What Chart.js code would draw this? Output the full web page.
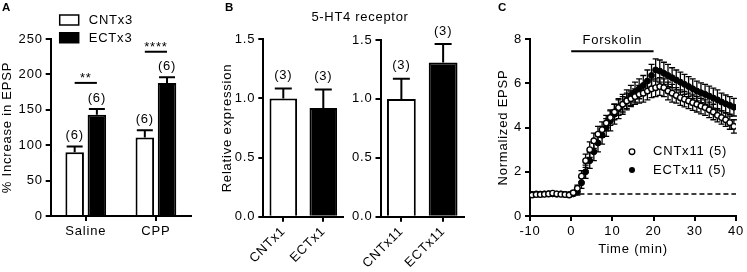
<!DOCTYPE html>
<html>
<head>
<meta charset="utf-8">
<script src="https://cdn.jsdelivr.net/npm/chart.js@4/dist/chart.umd.min.js"></script>
<style>
body { margin: 0; background: #fff; }
#wrap { position: relative; width: 747px; height: 272px; font-family: "Liberation Sans", Arial, sans-serif; color: #000; }
canvas { position: absolute; top: 0; }
.lbl { position: absolute; white-space: nowrap; line-height: 14px; }
.letter { font-weight: bold; font-size: 11.5px; }
</style>
</head>
<body>
<div id="wrap">
  <canvas id="chartA" width="200" height="272" style="left:0"></canvas>
  <canvas id="chartB1" width="150" height="272" style="left:200px"></canvas>
  <canvas id="chartB2" width="120" height="272" style="left:350px"></canvas>
  <canvas id="chartC" width="277" height="272" style="left:470px"></canvas>
  <div class="lbl letter" style="left:2px;top:0px">A</div>
  <div class="lbl letter" style="left:225px;top:0px">B</div>
  <div class="lbl letter" style="left:498px;top:0px">C</div>
  <div class="lbl" style="left:290px;top:10px;width:140px;text-align:center;font-size:13px;letter-spacing:0.7px">5-HT4 receptor</div>
</div>
<script>
// panel A
const groupsA = ['Saline', 'CPP'];
const cntA = [90, 111];
const cntAErr = [8, 10];
const ectA = [143, 188];
const ectAErr = [8, 8];
const nCntA = ['(6)', '(6)'];
const nEctA = ['(6)', '(6)'];
const sigA = ['**', '****'];
const sigAY = [188, 232];

// panel B
const catsB1 = ['CNTx1', 'ECTx1'];
const valsB1 = [1.0, 0.92];
const errB1 = [0.085, 0.155];
const catsB2 = ['CNTx11', 'ECTx11'];
const valsB2 = [1.0, 1.31];
const errB2 = [0.17, 0.155];
const nB = ['(3)', '(3)'];

// panel C
const timeC = [-9.5, -8.5, -7.5, -6.5, -5.5, -4.5, -3.5, -2.5, -1.5, -0.5,
  0.5, 1.5, 2.5, 3.5, 4.5, 5.5, 6.5, 7.5, 8.5, 9.5,
  10.5, 11.5, 12.5, 13.5, 14.5, 15.5, 16.5, 17.5, 18.5, 19.5,
  20.5, 21.5, 22.5, 23.5, 24.5, 25.5, 26.5, 27.5, 28.5, 29.5,
  30.5, 31.5, 32.5, 33.5, 34.5, 35.5, 36.5, 37.5, 38.5, 39.5];
const cntC = [0.95, 0.97, 0.97, 0.98, 1.0, 1.03, 1.0, 0.98, 0.97, 0.95,
  1.05, 1.25, 1.8, 2.5, 3.0, 3.4, 3.7, 3.9, 4.2, 4.45,
  4.7, 4.9, 5.05, 5.2, 5.3, 5.4, 5.5, 5.55, 5.65, 5.75,
  5.8, 5.85, 5.8, 5.65, 5.55, 5.45, 5.35, 5.28, 5.2, 5.12,
  5.05, 4.97, 4.9, 4.8, 4.7, 4.55, 4.45, 4.35, 4.22, 4.05];
const cntCErr = [0.05, 0.05, 0.05, 0.05, 0.05, 0.05, 0.05, 0.05, 0.05, 0.05,
  0.08, 0.15, 0.25, 0.3, 0.35, 0.35, 0.35, 0.35, 0.35, 0.35,
  0.35, 0.35, 0.35, 0.35, 0.35, 0.35, 0.4, 0.4, 0.4, 0.4,
  0.4, 0.4, 0.4, 0.4, 0.4, 0.35, 0.35, 0.35, 0.35, 0.35,
  0.35, 0.35, 0.35, 0.35, 0.35, 0.3, 0.3, 0.3, 0.3, 0.3];
const ectC = [0.98, 1.0, 0.99, 1.0, 1.01, 1.0, 0.99, 1.0, 0.98, 0.97,
  1.0, 1.1, 1.5, 2.0, 2.5, 2.9, 3.3, 3.65, 4.0, 4.3,
  4.6, 4.85, 5.05, 5.25, 5.45, 5.6, 5.75, 5.9, 6.1, 6.35,
  6.6, 6.55, 6.45, 6.35, 6.25, 6.15, 6.05, 5.95, 5.85, 5.75,
  5.65, 5.57, 5.5, 5.42, 5.33, 5.25, 5.15, 5.07, 5.0, 4.92];
const ectCErr = [0.05, 0.05, 0.05, 0.05, 0.05, 0.05, 0.05, 0.05, 0.05, 0.05,
  0.08, 0.15, 0.25, 0.3, 0.35, 0.4, 0.4, 0.4, 0.4, 0.45,
  0.45, 0.45, 0.45, 0.45, 0.45, 0.45, 0.45, 0.45, 0.5, 0.5,
  0.5, 0.5, 0.5, 0.5, 0.45, 0.45, 0.45, 0.45, 0.45, 0.45,
  0.45, 0.45, 0.45, 0.45, 0.45, 0.45, 0.4, 0.4, 0.4, 0.4];
const forskolin = [0, 20];
const forskolinY = 7.45;
const baselineC = [2, 40];

const FAM = '"Liberation Sans", Arial, sans-serif';
const FONT = { family: FAM, size: 13 };
const SPACING = '0.8px';
Chart.defaults.font.family = FAM;
Chart.defaults.font.size = 13;
Chart.defaults.color = '#000';

// the original lettering is set a little wide
const spacing = {
  id: 'spacing',
  beforeUpdate(chart) { chart.ctx.letterSpacing = SPACING; },
  beforeDraw(chart) { chart.ctx.letterSpacing = SPACING; }
};
Chart.register(spacing);

function xy(xs, ys) {
  return xs.map((x, i) => ({ x: x, y: ys[i] }));
}

function axis(extra) {
  const base = {
    grid: { display: true, drawOnChartArea: false, drawTicks: true, tickLength: 5, color: '#000', lineWidth: 2, offset: false },
    border: { display: true, color: '#000', width: 2 },
    ticks: { color: '#000', padding: 3, font: FONT }
  };
  for (const k in extra) {
    if (base[k] && typeof extra[k] === 'object') base[k] = Object.assign({}, base[k], extra[k]);
    else base[k] = extra[k];
  }
  return base;
}

// error bars + n labels, drawn through the y scale
function drawErr(chart, opts) {
  const ctx = chart.ctx;
  const ys = chart.scales.y;
  chart.data.datasets.forEach((ds, di) => {
    if (!ds.errors) return;
    const meta = chart.getDatasetMeta(di);
    ctx.save();
    ctx.strokeStyle = '#000';
    ctx.lineWidth = opts.lineWidth || 2;
    meta.data.forEach((el, i) => {
      const raw = ds.data[i];
      const v = typeof raw === 'object' ? raw.y : raw;
      const e = ds.errors[i];
      const x = el.x;
      const top = ys.getPixelForValue(v + e);
      const bot = opts.both ? ys.getPixelForValue(v - e) : el.y;
      const c = opts.cap / 2;
      ctx.beginPath();
      ctx.moveTo(x, bot); ctx.lineTo(x, top);
      ctx.moveTo(x - c, top); ctx.lineTo(x + c, top);
      if (opts.both) { ctx.moveTo(x - c, bot); ctx.lineTo(x + c, bot); }
      ctx.stroke();
      if (ds.counts) {
        ctx.fillStyle = '#000';
        ctx.font = '13px ' + FAM;
        ctx.textAlign = 'center';
        ctx.textBaseline = 'middle';
        ctx.fillText(ds.counts[i], x, top - opts.labelGap);
      }
    });
    ctx.restore();
  });
}

const errorBars = {
  id: 'errorBars',
  beforeDatasetsDraw(chart, args, opts) { if (opts.under) drawErr(chart, opts); },
  afterDatasetsDraw(chart, args, opts) { if (!opts.under) drawErr(chart, opts); }
};

const extrasA = {
  id: 'extrasA',
  afterDraw(chart) {
    const ctx = chart.ctx;
    const ys = chart.scales.y;
    const m0 = chart.getDatasetMeta(0), m1 = chart.getDatasetMeta(1);
    ctx.save();
    ctx.strokeStyle = '#000';
    ctx.fillStyle = '#000';
    ctx.lineWidth = 2;
    ctx.font = '13px ' + FAM;
    ctx.textAlign = 'center';
    ctx.textBaseline = 'bottom';
    sigA.forEach((s, i) => {
      const y = ys.getPixelForValue(sigAY[i]);
      ctx.beginPath();
      ctx.moveTo(m0.data[i].x, y); ctx.lineTo(m1.data[i].x, y);
      ctx.stroke();
      ctx.fillText(s, (m0.data[i].x + m1.data[i].x) / 2, y + 2);
    });
    // legend
    const lx = chart.chartArea.left + 9;
    ctx.lineWidth = 1.5;
    ctx.fillStyle = '#fff';
    ctx.fillRect(lx, 15, 19, 10);
    ctx.strokeRect(lx, 15, 19, 10);
    ctx.fillStyle = '#000';
    ctx.fillRect(lx - 0.75, 32, 20.5, 11.5);
    ctx.textAlign = 'left';
    ctx.textBaseline = 'middle';
    ctx.fillText(chart.data.datasets[0].label, lx + 29, 20);
    ctx.fillText(chart.data.datasets[1].label, lx + 29, 38);
    ctx.restore();
  }
};

const extrasC = {
  id: 'extrasC',
  afterDraw(chart) {
    const ctx = chart.ctx;
    const xs = chart.scales.x, ys = chart.scales.y;
    const a = chart.chartArea;
    ctx.save();
    ctx.strokeStyle = '#000';
    ctx.fillStyle = '#000';
    ctx.lineWidth = 2;
    const fy = ys.getPixelForValue(forskolinY);
    ctx.beginPath();
    ctx.moveTo(xs.getPixelForValue(forskolin[0]), fy);
    ctx.lineTo(xs.getPixelForValue(forskolin[1]), fy);
    ctx.stroke();
    ctx.font = '13px ' + FAM;
    ctx.textAlign = 'center';
    ctx.textBaseline = 'middle';
    ctx.fillText('Forskolin', xs.getPixelForValue((forskolin[0] + forskolin[1]) / 2), ys.getPixelForValue(8) + 1);
    // legend
    const cx = a.left + 102;
    ctx.textAlign = 'left';
    ctx.lineWidth = 1.3;
    ctx.beginPath(); ctx.arc(cx, a.top + 112.7, 2.8, 0, Math.PI * 2);
    ctx.fillStyle = '#fff'; ctx.fill(); ctx.stroke();
    ctx.fillStyle = '#000';
    ctx.beginPath(); ctx.arc(cx, a.top + 131, 3, 0, Math.PI * 2); ctx.fill();
    ctx.fillText(chart.data.datasets[0].label, cx + 21, a.top + 112.7);
    ctx.fillText(chart.data.datasets[1].label, cx + 21, a.top + 131);
    ctx.restore();
  }
};

const baseOpts = {
  responsive: false,
  animation: false,
  events: []
};

new Chart(document.getElementById('chartA'), {
  type: 'bar',
  data: {
    labels: groupsA,
    datasets: [
      { label: 'CNTx3', data: cntA, errors: cntAErr, counts: nCntA, backgroundColor: '#fff', borderColor: '#000', borderWidth: 2 },
      { label: 'ECTx3', data: ectA, errors: ectAErr, counts: nEctA, backgroundColor: '#000', borderColor: '#000', borderWidth: 2 }
    ]
  },
  options: Object.assign({}, baseOpts, {
    layout: { padding: { top: 39, right: 9, bottom: 0, left: 0 } },
    datasets: { bar: { categoryPercentage: 0.633, barPercentage: 0.835 } },
    plugins: {
      legend: { display: false }, tooltip: { enabled: false },
      errorBars: { cap: 16, lineWidth: 2, labelGap: 11 }
    },
    scales: {
      x: axis({ afterFit: s => { s.height = 56; } }),
      y: axis({
        min: 0, max: 250,
        ticks: { stepSize: 50 },
        title: { display: true, text: '% Increase in EPSP', font: FONT, padding: 0 },
        afterFit: s => { s.width = 50.7; }
      })
    }
  }),
  plugins: [errorBars, extrasA]
});

function barB(id, cats, vals, errs, yWidth, padRight, padTop, withTitle) {
  new Chart(document.getElementById(id), {
    type: 'bar',
    data: {
      labels: cats,
      datasets: [{
        data: vals, errors: errs, counts: nB,
        backgroundColor: ['#fff', '#000'], borderColor: '#000', borderWidth: 2
      }]
    },
    options: Object.assign({}, baseOpts, {
      layout: { padding: { top: padTop, right: padRight, bottom: 0, left: 0 } },
      datasets: { bar: { categoryPercentage: 1, barPercentage: 0.69 } },
      plugins: {
        legend: { display: false }, tooltip: { enabled: false },
        errorBars: { cap: 17, lineWidth: 2, labelGap: 13 }
      },
      scales: {
        x: axis({ ticks: { minRotation: 45, maxRotation: 45, padding: 2, font: FONT }, afterFit: s => { s.height = 55.3; } }),
        y: axis({
          min: 0, max: 1.5,
          ticks: { stepSize: 0.5, callback: v => v.toFixed(1) },
          title: { display: withTitle, text: 'Relative expression', font: FONT, padding: { top: 20, bottom: 0 } },
          afterFit: s => { s.width = yWidth; }
        })
      }
    }),
    plugins: [errorBars]
  });
}
barB('chartB1', catsB1, valsB1, errB1, 63.3, 6.7, 39.3, true);
barB('chartB2', catsB2, valsB2, errB2, 30.5, 6, 40, false);

new Chart(document.getElementById('chartC'), {
  type: 'scatter',
  data: {
    datasets: [
      { label: 'CNTx11 (5)', data: xy(timeC, cntC), errors: cntCErr, pointRadius: 2.8, pointBorderWidth: 1.4,
        pointBackgroundColor: '#fff', pointBorderColor: '#000', showLine: false },
      { label: 'ECTx11 (5)', data: xy(timeC, ectC), errors: ectCErr, pointRadius: 3, pointBorderWidth: 1,
        pointBackgroundColor: '#000', pointBorderColor: '#000', showLine: false },
      { label: 'baseline', data: xy(baselineC, [1, 1]), showLine: true, pointRadius: 0,
        borderColor: '#000', borderWidth: 1.5, borderDash: [5, 3] }
    ]
  },
  options: Object.assign({}, baseOpts, {
    layout: { padding: { top: 39, right: 9, bottom: 0, left: 0 } },
    plugins: {
      legend: { display: false }, tooltip: { enabled: false },
      errorBars: { cap: 6, lineWidth: 1.3, both: true, under: true, labelGap: 0 }
    },
    scales: {
      x: axis({
        type: 'linear', min: -10, max: 40,
        ticks: { stepSize: 10 },
        title: { display: true, text: 'Time (min)', font: FONT, padding: { top: 0, bottom: 14.5 } },
        afterFit: s => { s.height = 56; }
      }),
      y: axis({
        min: 0, max: 8,
        ticks: { stepSize: 2 },
        title: { display: true, text: 'Normalized EPSP', font: FONT, padding: { top: 26, bottom: 0 } },
        afterFit: s => { s.width = 60; }
      })
    }
  }),
  plugins: [errorBars, extrasC]
});
</script>
</body>
</html>
